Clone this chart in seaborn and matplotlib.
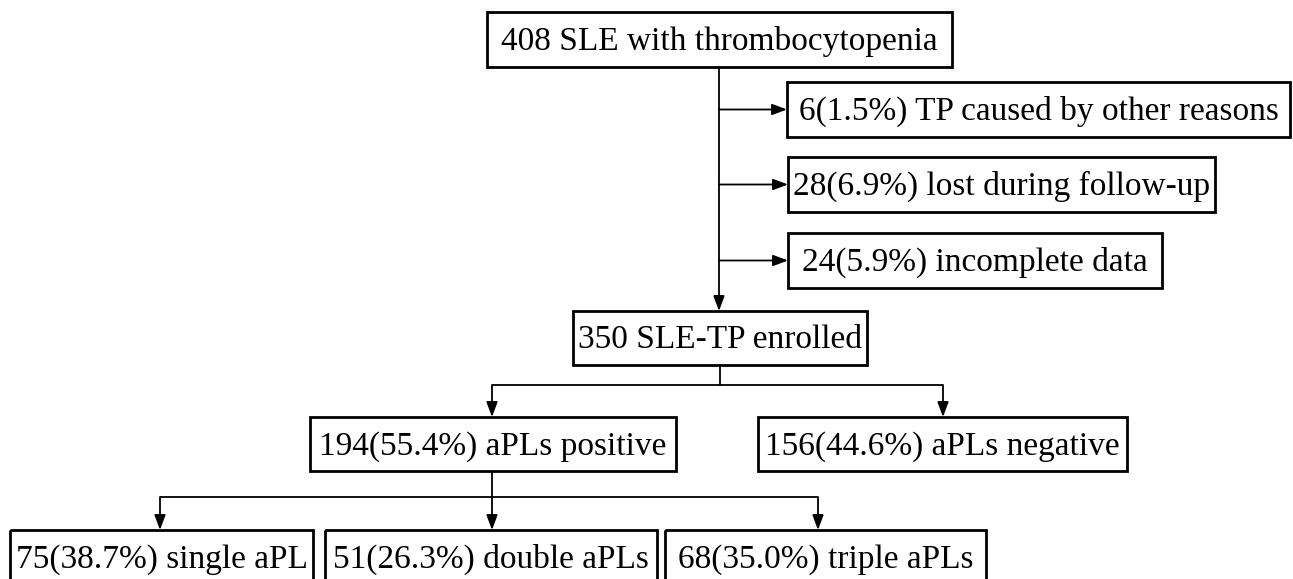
import matplotlib
matplotlib.use("Agg")
import matplotlib.pyplot as plt
import seaborn as sns
from matplotlib.patches import Rectangle

sns.set_theme(style="white")
plt.rcParams['font.family'] = ['Liberation Serif', 'DejaVu Serif']

# ---- data ----
total = 408
excluded_counts = [6, 28, 24]
excluded_pcts = [1.5, 6.9, 5.9]
excluded_reasons = ["TP caused by other reasons", "lost during follow-up", "incomplete data"]
enrolled = 350
apl_counts = [194, 156]
apl_pcts = [55.4, 44.6]
apl_groups = ["aPLs positive", "aPLs negative"]
sub_counts = [75, 51, 68]
sub_pcts = [38.7, 26.3, 35.0]
sub_groups = ["single aPL", "double aPLs", "triple aPLs"]

# ---- layout (pixel coords, y downward) ----
W, H = 1293, 579
fig = plt.figure(figsize=(W / 100, H / 100), dpi=100)
ax = fig.add_axes([0, 0, 1, 1])
ax.set_xlim(0, W)
ax.set_ylim(H, 0)
ax.axis("off")

FS = 24
BLW = 2.0
ALW = 1.3


def box(x0, x1, y0, y1, label):
    ax.add_patch(Rectangle((x0, y0), x1 - x0, y1 - y0, fill=False,
                           edgecolor="black", linewidth=BLW))
    cy = (y0 + min(y1, y0 + 55)) / 2
    ax.text((x0 + x1) / 2, cy + 10.5, label, ha="center", va="baseline",
            fontsize=FS, color="black")


def line(xs, ys):
    ax.plot(xs, ys, color="black", linewidth=ALW, solid_capstyle="butt")


def arrow(x0, y0, x1, y1):
    ax.annotate("", xy=(x1, y1), xytext=(x0, y0),
                arrowprops=dict(arrowstyle="-|>,head_length=0.75,head_width=0.28",
                                color="black", lw=ALW, shrinkA=0, shrinkB=0))


# top box
box(487, 952, 12, 67, f"{total} SLE with thrombocytopenia")

# exclusions
ex_boxes = [(787, 1290, 82, 137), (788, 1215, 157, 212), (788, 1162, 233, 288)]
for (x0, x1, y0, y1), n, p, r in zip(ex_boxes, excluded_counts, excluded_pcts, excluded_reasons):
    box(x0, x1, y0, y1, f"{n}({p}%) {r}")
    arrow(719, (y0 + y1) / 2, x0, (y0 + y1) / 2)

arrow(719, 67, 719, 311)

# enrolled
box(573, 867, 311, 365, f"{enrolled} SLE-TP enrolled")
line([720, 720], [365, 385])
line([492, 943], [385, 385])
apl_boxes = [(310, 676, 417, 471), (758, 1127, 417, 471)]
for (x0, x1, y0, y1), cx, n, p, g in zip(apl_boxes, [492, 943], apl_counts, apl_pcts, apl_groups):
    arrow(cx, 385, cx, y0)
    box(x0, x1, y0, y1, f"{n}({p}%) {g}")

# sub groups
line([492, 492], [471, 497])
line([160, 818], [497, 497])
sub_boxes = [(10, 313, 530, 600), (325, 657, 530, 600), (665, 986, 530, 600)]
for (x0, x1, y0, y1), cx, n, p, g in zip(sub_boxes, [160, 492, 818], sub_counts, sub_pcts, sub_groups):
    arrow(cx, 497, cx, y0)
    box(x0, x1, y0, y1, f"{n}({p:.1f}%) {g}")

fig.savefig("out.png", dpi=100, facecolor="white")
